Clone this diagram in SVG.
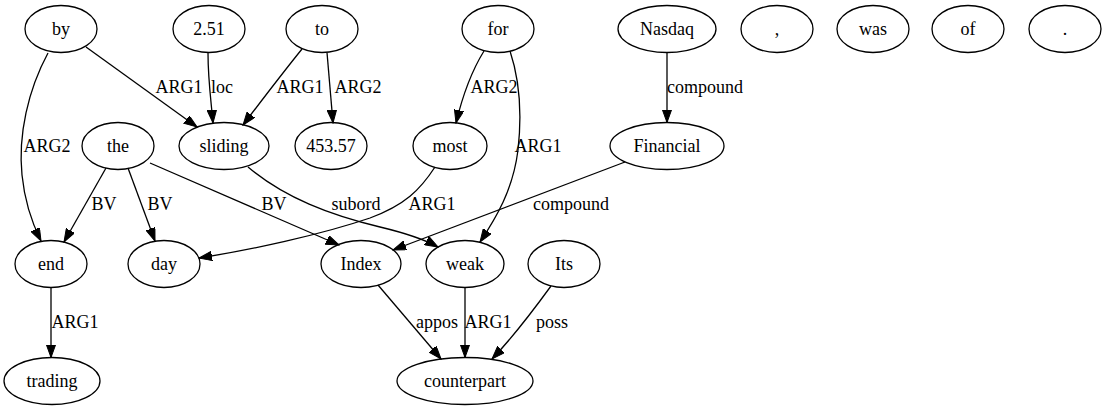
<svg xmlns="http://www.w3.org/2000/svg" width="1107" height="411" viewBox="0 0 1107 411" font-family="'Liberation Serif', 'Times New Roman', 'DejaVu Serif', serif" font-size="18">
<defs>
<style>
.n ellipse{fill:none;stroke:#000;stroke-width:1.3}
text{font-family:'Liberation Serif','Times New Roman','DejaVu Serif',serif;font-size:18px;fill:#000;text-anchor:middle}
.e path{fill:none;stroke:#000;stroke-width:1.3;marker-end:url(#ah)}
</style>
<marker id="ah" markerUnits="userSpaceOnUse" markerWidth="14" markerHeight="10" refX="13" refY="4.7" orient="auto">
<path d="M0,0 L13,4.7 L0,9.4 z" fill="#000" stroke="#000" stroke-width="1"/>
</marker>
</defs>
<rect width="1107" height="411" fill="#fff"/>
<g id="edges" class="e">
<path d="M86,47 L197,127"/>
<path d="M48,53 C28,90 18,135 22,175 C25,205 33,225 41,241"/>
<path d="M208,53 C208,80 211,100 213,123"/>
<path d="M302,49 C285,70 262,100 243,125"/>
<path d="M327,52.5 L333,123"/>
<path d="M106,168 L64,242"/>
<path d="M128,168 L155,241"/>
<path d="M150,163 L339,245"/>
<path d="M248,167 C285,198 330,215 380,227 C405,233 422,238 438,247"/>
<path d="M435,167 C420,190 405,205 370,218 C320,235 250,250 199,258"/>
<path d="M510,51 C518,75 523,105 518,150 C513,190 496,218 480,242"/>
<path d="M484,51 C471,72 462,98 456,123"/>
<path d="M667,52.5 L667,122.5"/>
<path d="M625,162 L393,250"/>
<path d="M51,287.5 L51,357.5"/>
<path d="M378,285 L441,359"/>
<path d="M465,287.5 L465,357.5"/>
<path d="M551,286 C535,308 515,335 492,359"/>
<text x="179" y="93">ARG1</text>
<text x="47" y="152">ARG2</text>
<text x="222" y="93">loc</text>
<text x="300" y="93">ARG1</text>
<text x="358" y="93">ARG2</text>
<text x="104" y="210">BV</text>
<text x="160" y="210">BV</text>
<text x="274" y="210">BV</text>
<text x="356" y="210">subord</text>
<text x="432" y="210">ARG1</text>
<text x="538" y="152">ARG1</text>
<text x="494" y="93">ARG2</text>
<text x="705" y="93">compound</text>
<text x="571" y="210">compound</text>
<text x="75" y="328">ARG1</text>
<text x="437" y="328">appos</text>
<text x="488" y="328">ARG1</text>
<text x="552" y="328">poss</text>
</g>
<g id="n_by" class="n"><ellipse cx="61" cy="29" rx="36" ry="23.5"/><text x="61" y="35">by</text></g>
<g id="n_2.51" class="n"><ellipse cx="209" cy="29" rx="36" ry="23.5"/><text x="209" y="35">2.51</text></g>
<g id="n_to" class="n"><ellipse cx="322" cy="29" rx="36" ry="23.5"/><text x="322" y="35">to</text></g>
<g id="n_for" class="n"><ellipse cx="498" cy="29" rx="36" ry="23.5"/><text x="498" y="35">for</text></g>
<g id="n_Nasdaq" class="n"><ellipse cx="667" cy="29" rx="49" ry="23.5"/><text x="667" y="35">Nasdaq</text></g>
<g id="n_comma" class="n"><ellipse cx="777" cy="29" rx="36" ry="23.5"/><text x="777" y="35">,</text></g>
<g id="n_was" class="n"><ellipse cx="873" cy="29" rx="36" ry="23.5"/><text x="873" y="35">was</text></g>
<g id="n_of" class="n"><ellipse cx="968" cy="29" rx="36" ry="23.5"/><text x="968" y="35">of</text></g>
<g id="n_period" class="n"><ellipse cx="1065" cy="29" rx="36" ry="23.5"/><text x="1065" y="35">.</text></g>
<g id="n_the" class="n"><ellipse cx="118" cy="146" rx="36" ry="23.5"/><text x="118" y="152">the</text></g>
<g id="n_sliding" class="n"><ellipse cx="224" cy="146" rx="45" ry="23.5"/><text x="224" y="152">sliding</text></g>
<g id="n_453.57" class="n"><ellipse cx="331" cy="146" rx="36" ry="23.5"/><text x="331" y="152">453.57</text></g>
<g id="n_most" class="n"><ellipse cx="450" cy="146" rx="37" ry="23.5"/><text x="450" y="152">most</text></g>
<g id="n_Financial" class="n"><ellipse cx="667" cy="146" rx="57" ry="23.5"/><text x="667" y="152">Financial</text></g>
<g id="n_end" class="n"><ellipse cx="51" cy="264" rx="36" ry="23.5"/><text x="51" y="270">end</text></g>
<g id="n_day" class="n"><ellipse cx="164" cy="264" rx="36" ry="23.5"/><text x="164" y="270">day</text></g>
<g id="n_Index" class="n"><ellipse cx="361" cy="264" rx="40" ry="23.5"/><text x="361" y="270">Index</text></g>
<g id="n_weak" class="n"><ellipse cx="465" cy="264" rx="39" ry="23.5"/><text x="465" y="270">weak</text></g>
<g id="n_Its" class="n"><ellipse cx="564" cy="264" rx="36" ry="23.5"/><text x="564" y="270">Its</text></g>
<g id="n_trading" class="n"><ellipse cx="52" cy="381" rx="48" ry="23.5"/><text x="52" y="387">trading</text></g>
<g id="n_counterpart" class="n"><ellipse cx="465" cy="381" rx="68" ry="23.5"/><text x="465" y="387">counterpart</text></g>
</svg>
